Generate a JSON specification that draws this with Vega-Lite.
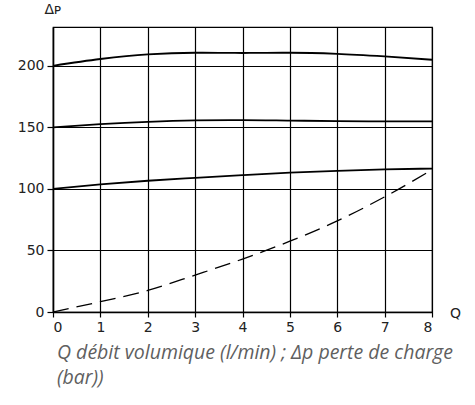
{
  "$schema": "https://vega.github.io/schema/vega-lite/v6.json",
  "autosize": "none",
  "width": 379,
  "height": 285,
  "padding": {"left": 53, "top": 27, "right": 43, "bottom": 93},
  "background": "white",
  "config": {"view": {"stroke": "black", "strokeWidth": 1.2}},
  "title": {
    "text": ["Q débit volumique (l/min) ; Δp perte de charge", "(bar))"],
    "orient": "bottom",
    "anchor": "start",
    "frame": "group",
    "offset": 10,
    "dx": 4,
    "font": "Open Sans",
    "fontStyle": "italic",
    "fontWeight": "normal",
    "fontSize": 19.5,
    "lineHeight": 25,
    "color": "#5f5f5f"
  },
  "data": {"values": [
    {"q": 0, "dp": 200, "s": "A"}, {"q": 1, "dp": 205.5, "s": "A"}, {"q": 2, "dp": 209.3, "s": "A"}, {"q": 3, "dp": 210.6, "s": "A"}, {"q": 4, "dp": 210.4, "s": "A"}, {"q": 5, "dp": 210.6, "s": "A"}, {"q": 6, "dp": 209.7, "s": "A"}, {"q": 7, "dp": 207.6, "s": "A"}, {"q": 8, "dp": 204.9, "s": "A"},
    {"q": 0, "dp": 150, "s": "B"}, {"q": 1, "dp": 152.6, "s": "B"}, {"q": 2, "dp": 154.5, "s": "B"}, {"q": 3, "dp": 155.6, "s": "B"}, {"q": 4, "dp": 155.9, "s": "B"}, {"q": 5, "dp": 155.5, "s": "B"}, {"q": 6, "dp": 155.0, "s": "B"}, {"q": 7, "dp": 154.8, "s": "B"}, {"q": 8, "dp": 154.8, "s": "B"},
    {"q": 0, "dp": 100, "s": "C"}, {"q": 1, "dp": 103.6, "s": "C"}, {"q": 2, "dp": 106.6, "s": "C"}, {"q": 3, "dp": 109.0, "s": "C"}, {"q": 4, "dp": 111.2, "s": "C"}, {"q": 5, "dp": 113.2, "s": "C"}, {"q": 6, "dp": 114.7, "s": "C"}, {"q": 7, "dp": 115.8, "s": "C"}, {"q": 8, "dp": 116.5, "s": "C"},
    {"q": 0, "dp": 0, "s": "D"}, {"q": 1, "dp": 8.4, "s": "D"}, {"q": 2, "dp": 17.5, "s": "D"}, {"q": 3, "dp": 30, "s": "D"}, {"q": 4, "dp": 43, "s": "D"}, {"q": 5, "dp": 57.5, "s": "D"}, {"q": 6, "dp": 74, "s": "D"}, {"q": 7, "dp": 93.5, "s": "D"}, {"q": 8, "dp": 115.5, "s": "D"}
  ]},
  "encoding": {
    "x": {
      "field": "q", "type": "quantitative",
      "scale": {"domain": [0, 8], "nice": false},
      "axis": {
        "values": [0, 1, 2, 3, 4, 5, 6, 7, 8],
        "grid": true, "gridColor": "black", "gridWidth": 1.2, "gridOpacity": 1,
        "domainColor": "black", "domainWidth": 1.5,
        "tickColor": "black", "tickSize": 5, "tickWidth": 1.2,
        "labelFont": "DejaVu Sans", "labelFontSize": 14, "labelColor": "#222", "labelPadding": 3,
        "title": "Q", "titleFont": "DejaVu Sans", "titleFontSize": 14, "titleFontWeight": "normal", "titleColor": "#222",
        "titleX": 402, "titleY": 1, "titleAlign": "center", "titleBaseline": "middle"
      }
    },
    "y": {
      "field": "dp", "type": "quantitative",
      "scale": {"domain": [0, 231.5], "nice": false, "zero": true},
      "axis": {
        "values": [0, 50, 100, 150, 200],
        "grid": true, "gridColor": "black", "gridWidth": 1.2, "gridOpacity": 1,
        "domainColor": "black", "domainWidth": 1.5,
        "tickColor": "black", "tickSize": 6, "tickWidth": 1.2,
        "labelFont": "DejaVu Sans", "labelFontSize": 14, "labelColor": "#222", "labelPadding": 3,
        "title": "Δᴘ", "titleFont": "DejaVu Sans", "titleFontSize": 14, "titleFontWeight": "normal", "titleColor": "#222",
        "titleAngle": 0, "titleX": -9, "titleY": -14, "titleAlign": "left", "titleBaseline": "alphabetic"
      }
    },
    "detail": {"field": "s"}
  },
  "layer": [
    {
      "transform": [{"filter": "datum.s !== 'D'"}],
      "mark": {"type": "line", "color": "black", "strokeWidth": 1.8, "interpolate": "monotone"}
    },
    {
      "transform": [{"filter": "datum.s === 'D'"}],
      "mark": {"type": "line", "color": "black", "strokeWidth": 1.3, "interpolate": "monotone", "strokeDash": [16, 8]}
    }
  ]
}
